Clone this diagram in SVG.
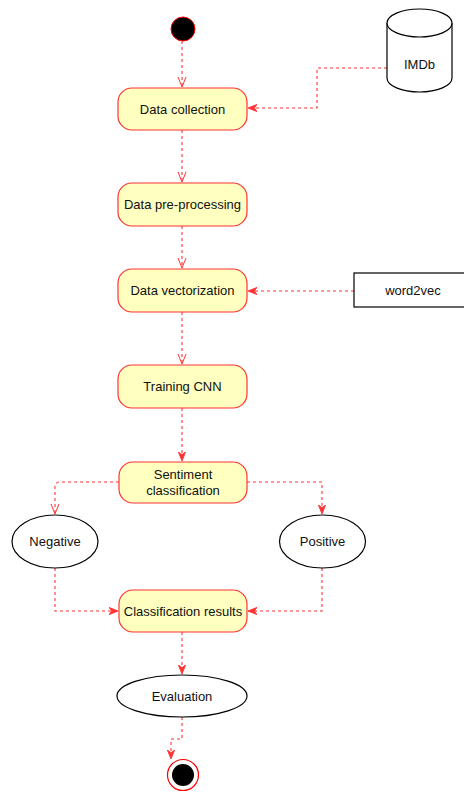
<svg xmlns="http://www.w3.org/2000/svg" width="464" height="792" viewBox="0 0 464 792">
  <style>
    .act { fill: #ffffc0; stroke: #ff3333; stroke-width: 1.2; }
    .plain { fill: #ffffff; stroke: #000000; stroke-width: 1.2; }
    .lbl { font-family: "Liberation Sans", Arial, sans-serif; font-size: 13px; fill: #111111; text-anchor: middle; dominant-baseline: central; }
    .flow { fill: none; stroke: #ff3333; stroke-width: 1.1; stroke-dasharray: 3 3; }
  </style>
  <defs>
    <marker id="open" viewBox="0 0 10 10" refX="10" refY="5" markerWidth="10" markerHeight="10" markerUnits="userSpaceOnUse" orient="auto">
      <path d="M0,1 L10,5 L0,9" fill="none" stroke="#ff3333" stroke-width="1"/>
    </marker>
    <marker id="filled" viewBox="0 0 10 10" refX="10" refY="5" markerWidth="9" markerHeight="9" markerUnits="userSpaceOnUse" orient="auto">
      <path d="M0,1 L10,5 L0,9 L3,5 Z" fill="#ff3333" stroke="#ff3333" stroke-width="1"/>
    </marker>
  </defs>

  <g id="connectors">
    <path class="flow" d="M182,41 L182,87" marker-end="url(#open)"/>
    <path class="flow" d="M387,68 L317,68 L317,108 L248,108" marker-end="url(#filled)"/>
    <path class="flow" d="M182,130 L182,182" marker-end="url(#open)"/>
    <path class="flow" d="M182,226 L182,268" marker-end="url(#open)"/>
    <path class="flow" d="M354,291 L248,291" marker-end="url(#filled)"/>
    <path class="flow" d="M182,312 L182,364" marker-end="url(#open)"/>
    <path class="flow" d="M182,408 L182,461" marker-end="url(#filled)"/>
    <path class="flow" d="M119,482 L60,482 Q55,482 55,487 L55,514" marker-end="url(#open)"/>
    <path class="flow" d="M247,482 L322,482 L322,514" marker-end="url(#filled)"/>
    <path class="flow" d="M55,568 L55,611 L118,611" marker-end="url(#filled)"/>
    <path class="flow" d="M322,568 L322,611 L248,611" marker-end="url(#filled)"/>
    <path class="flow" d="M182,632 L182,674" marker-end="url(#filled)"/>
    <path class="flow" d="M182,717 L182,739 L171,739 L171,759" marker-end="url(#filled)"/>
  </g>

  <g id="start">
    <circle cx="183" cy="29" r="12" fill="#000000" stroke="#ff0000" stroke-width="1"/>
  </g>

  <g id="data-collection">
    <rect class="act" x="118" y="88" width="129" height="42" rx="14"/>
    <text class="lbl" x="182.5" y="109">Data collection</text>
  </g>

  <g id="imdb">
    <path class="plain" d="M387,23 L387,78 A32.5,14 0 0 0 452,78 L452,23 A32.5,14 0 0 0 387,23 Z"/>
    <path class="plain" d="M387,23 A32.5,14 0 0 0 452,23" fill="none"/>
    <text class="lbl" x="419.5" y="64">IMDb</text>
  </g>

  <g id="data-preprocessing">
    <rect class="act" x="118" y="183" width="129" height="43" rx="14"/>
    <text class="lbl" x="182.5" y="204.5">Data pre-processing</text>
  </g>

  <g id="data-vectorization">
    <rect class="act" x="118" y="269" width="129" height="43" rx="14"/>
    <text class="lbl" x="182.5" y="290.5">Data vectorization</text>
  </g>

  <g id="word2vec">
    <rect class="plain" x="354" y="273" width="120" height="34"/>
    <text class="lbl" x="413" y="290">word2vec</text>
  </g>

  <g id="training-cnn">
    <rect class="act" x="118" y="365" width="129" height="43" rx="14"/>
    <text class="lbl" x="182.5" y="386.5">Training CNN</text>
  </g>

  <g id="sentiment-classification">
    <rect class="act" x="119" y="462" width="128" height="41" rx="14"/>
    <text class="lbl" x="183" y="474">Sentiment</text>
    <text class="lbl" x="183" y="490.5">classification</text>
  </g>

  <g id="negative">
    <ellipse class="plain" cx="55" cy="541.5" rx="43" ry="26.5"/>
    <text class="lbl" x="55" y="541.5">Negative</text>
  </g>

  <g id="positive">
    <ellipse class="plain" cx="322.5" cy="541.5" rx="43" ry="26.5"/>
    <text class="lbl" x="322.5" y="541.5">Positive</text>
  </g>

  <g id="classification-results">
    <rect class="act" x="119" y="590" width="128" height="42" rx="14"/>
    <text class="lbl" x="183" y="611">Classification results</text>
  </g>

  <g id="evaluation">
    <ellipse class="plain" cx="182" cy="696" rx="65" ry="21"/>
    <text class="lbl" x="182" y="696">Evaluation</text>
  </g>

  <g id="end">
    <circle cx="183" cy="775" r="15.5" fill="#ffffff" stroke="#ff0000" stroke-width="1.2"/>
    <circle cx="183" cy="775" r="11" fill="#000000"/>
  </g>
</svg>
